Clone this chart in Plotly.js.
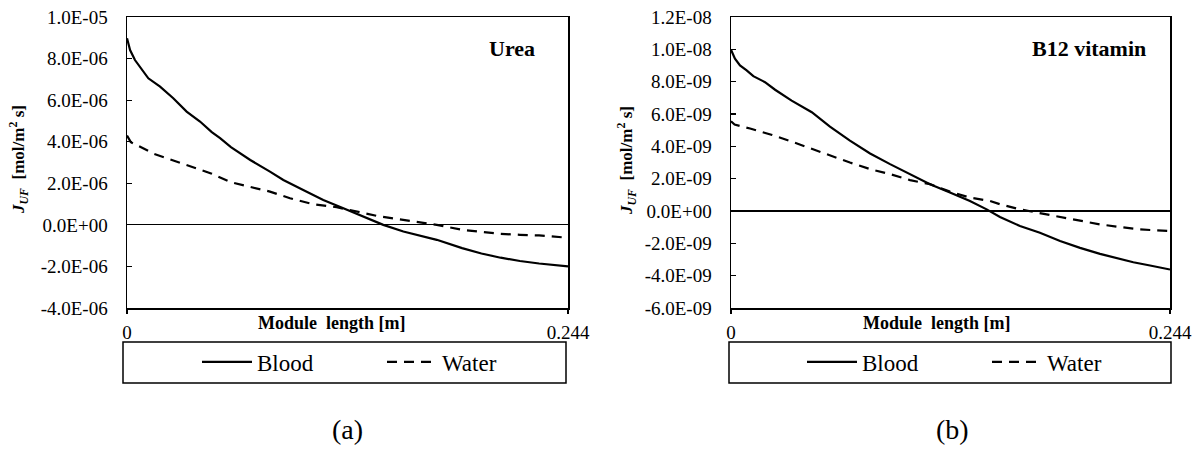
<!DOCTYPE html>
<html>
<head>
<meta charset="utf-8">
<script src="https://cdn.plot.ly/plotly-3.0.1.min.js"></script>
<style>html,body{margin:0;padding:0;background:#fff;}#chart{width:1200px;height:451px;}</style>
</head>
<body>
<div id="chart"></div>
<script>
// ---- Data (a) Urea ----
const xBloodA = [0, 0.0017, 0.0044, 0.0072, 0.0118, 0.0183, 0.0256, 0.0330, 0.0404, 0.0469, 0.0515, 0.0575, 0.0682, 0.0791, 0.0865, 0.0975, 0.1086, 0.1197, 0.1307, 0.1418, 0.1529, 0.1639, 0.1714, 0.1854, 0.1961, 0.2067, 0.2174, 0.2280, 0.244];
const yBloodA = [8.98e-6, 8.41e-6, 7.93e-6, 7.61e-6, 7.05e-6, 6.65e-6, 6.09e-6, 5.45e-6, 4.97e-6, 4.46e-6, 4.17e-6, 3.74e-6, 3.12e-6, 2.56e-6, 2.16e-6, 1.68e-6, 1.2e-6, 0.8e-6, 0.4e-6, 0, -0.32e-6, -0.56e-6, -0.72e-6, -1.12e-6, -1.38e-6, -1.58e-6, -1.74e-6, -1.86e-6, -2.0e-6];
const xWaterA = [0, 0.0021, 0.0149, 0.0256, 0.0362, 0.0469, 0.0575, 0.0682, 0.0791, 0.0902, 0.1031, 0.1160, 0.1271, 0.1382, 0.1492, 0.1603, 0.1714, 0.1854, 0.1961, 0.2067, 0.2174, 0.2280, 0.244];
const yWaterA = [4.3e-6, 3.98e-6, 3.42e-6, 3.1e-6, 2.78e-6, 2.46e-6, 2.05e-6, 1.81e-6, 1.6e-6, 1.28e-6, 0.99e-6, 0.85e-6, 0.64e-6, 0.43e-6, 0.29e-6, 0.13e-6, 0, -0.24e-6, -0.35e-6, -0.43e-6, -0.48e-6, -0.51e-6, -0.62e-6];
// ---- Data (b) B12 vitamin ----
const xBloodB = [0, 0.0022, 0.0050, 0.0087, 0.0124, 0.0189, 0.0245, 0.0337, 0.0449, 0.0550, 0.0661, 0.0773, 0.0884, 0.0995, 0.1106, 0.1217, 0.1328, 0.1421, 0.1495, 0.1606, 0.1717, 0.1829, 0.1940, 0.2051, 0.2144, 0.2236, 0.2329, 0.244];
const yBloodB = [9.98e-9, 9.42e-9, 9.0e-9, 8.7e-9, 8.34e-9, 7.97e-9, 7.5e-9, 6.83e-9, 6.11e-9, 5.22e-9, 4.35e-9, 3.56e-9, 2.9e-9, 2.28e-9, 1.66e-9, 1.14e-9, 0.62e-9, 0.1e-9, -0.37e-9, -0.93e-9, -1.35e-9, -1.86e-9, -2.28e-9, -2.65e-9, -2.9e-9, -3.17e-9, -3.37e-9, -3.62e-9];
const xWaterB = [0, 0.0020, 0.0106, 0.0224, 0.0330, 0.0437, 0.0550, 0.0661, 0.0773, 0.0884, 0.0995, 0.1106, 0.1217, 0.1328, 0.1440, 0.1495, 0.1606, 0.1717, 0.1829, 0.1940, 0.2051, 0.2162, 0.2273, 0.244];
const yWaterB = [5.55e-9, 5.35e-9, 5.1e-9, 4.72e-9, 4.32e-9, 3.88e-9, 3.42e-9, 3.0e-9, 2.59e-9, 2.28e-9, 1.91e-9, 1.66e-9, 1.2e-9, 0.83e-9, 0.62e-9, 0.42e-9, 0.1e-9, -0.14e-9, -0.35e-9, -0.62e-9, -0.83e-9, -0.99e-9, -1.14e-9, -1.24e-9];
// ---- Ticks ----
const yTickValsA = [-4e-6, -2e-6, 0, 2e-6, 4e-6, 6e-6, 8e-6, 1e-5];
const yTickTextA = ['-4.0E-06', '-2.0E-06', '0.0E+00', '2.0E-06', '4.0E-06', '6.0E-06', '8.0E-06', '1.0E-05'];
const yTickValsB = [-6e-9, -4e-9, -2e-9, 0, 2e-9, 4e-9, 6e-9, 8e-9, 1e-8, 1.2e-8];
const yTickTextB = ['-6.0E-09', '-4.0E-09', '-2.0E-09', '0.0E+00', '2.0E-09', '4.0E-09', '6.0E-09', '8.0E-09', '1.0E-08', '1.2E-08'];
const xTickVals = [0, 0.244];
const xTickText = ['0', '0.244'];
const seriesNames = ['Blood', 'Water'];

const FONT = 'Liberation Serif, Times New Roman, Times, serif';
const W = 1200, H = 451;
const px = v => v / W;
const py = v => 1 - v / H;

const solid = {color: '#000', width: 2.2};
const dashed = {color: '#000', width: 2.2, dash: '10px,7px'};

const traces = [
  {x: xBloodA, y: yBloodA, name: seriesNames[0], mode: 'lines', line: solid, xaxis: 'x', yaxis: 'y', legend: 'legend'},
  {x: xWaterA, y: yWaterA, name: seriesNames[1], mode: 'lines', line: dashed, xaxis: 'x', yaxis: 'y', legend: 'legend'},
  {x: xBloodB, y: yBloodB, name: seriesNames[0], mode: 'lines', line: solid, xaxis: 'x2', yaxis: 'y2', legend: 'legend2'},
  {x: xWaterB, y: yWaterB, name: seriesNames[1], mode: 'lines', line: dashed, xaxis: 'x2', yaxis: 'y2', legend: 'legend2'}
];

const xCommon = {
  range: [0, 0.244], tickvals: xTickVals, ticktext: xTickText,
  showline: true, mirror: true, linecolor: '#000', linewidth: 1.5,
  ticks: 'outside', ticklen: 4, tickcolor: '#000', tickwidth: 1.2,
  showgrid: false, zeroline: false, ticklabelstandoff: 3,
  tickfont: {family: FONT, size: 19, color: '#000'}
};
const yCommon = {
  showline: true, mirror: true, linecolor: '#000', linewidth: 1.5,
  ticks: 'inside', ticklen: 5, tickcolor: '#000', tickwidth: 1.2,
  showgrid: false, zeroline: true, zerolinecolor: '#000', zerolinewidth: 1.2,
  ticklabelstandoff: 14,
  tickfont: {family: FONT, size: 19, color: '#000'}
};

const yTitle = '<b><i>J</i><sub><i>UF</i></sub>  [mol/m<sup>2</sup> s]</b>';
const legendCommon = {
  orientation: 'h', bgcolor: 'rgba(0,0,0,0)', borderwidth: 0,
  font: {family: FONT, size: 23, color: '#000'},
  yanchor: 'middle', xanchor: 'left', entrywidth: 120, entrywidthmode: 'pixels',
  itemwidth: 50
};
const ann = (text, x, y, size, extra) => Object.assign({
  text: text, xref: 'paper', yref: 'paper', x: px(x), y: py(y),
  xanchor: 'center', yanchor: 'middle', showarrow: false,
  font: {family: FONT, size: size, color: '#000'}
}, extra || {});

const layout = {
  width: W, height: H,
  margin: {l: 0, r: 0, t: 0, b: 0},
  paper_bgcolor: '#fff', plot_bgcolor: '#fff',
  font: {family: FONT, color: '#000'},
  showlegend: true,
  xaxis: Object.assign({}, xCommon, {domain: [px(127), px(568)], anchor: 'y'}),
  yaxis: Object.assign({}, yCommon, {domain: [py(308), py(17)], range: [-4e-6, 1e-5], tickvals: yTickValsA, ticktext: yTickTextA, anchor: 'x'}),
  xaxis2: Object.assign({}, xCommon, {domain: [px(731), px(1170)], anchor: 'y2'}),
  yaxis2: Object.assign({}, yCommon, {domain: [py(308), py(17)], range: [-6e-9, 1.2e-8], tickvals: yTickValsB, ticktext: yTickTextB, anchor: 'x2'}),
  legend: Object.assign({}, legendCommon, {x: px(197), y: py(362)}),
  legend2: Object.assign({}, legendCommon, {x: px(802), y: py(362)}),
  shapes: [
    {type: 'rect', xref: 'paper', yref: 'paper', x0: px(123), x1: px(566), y0: py(383), y1: py(342), line: {color: '#000', width: 1.5}},
    {type: 'rect', xref: 'paper', yref: 'paper', x0: px(729), x1: px(1171), y0: py(383), y1: py(342), line: {color: '#000', width: 1.5}}
  ],
  annotations: [
    ann('<b>Urea</b>', 512, 48, 22),
    ann('<b>B12 vitamin</b>', 1089, 48, 22),
    ann('<b>Module  length [m]</b>', 332, 323, 18),
    ann('<b>Module  length [m]</b>', 937, 323, 18),
    ann(yTitle, 18, 160, 17, {textangle: -90}),
    ann(yTitle, 626, 160, 17, {textangle: -90}),
    ann('(a)', 347, 429, 28),
    ann('(b)', 952, 429, 28)
  ]
};

Plotly.newPlot('chart', traces, layout, {displayModeBar: false, staticPlot: true});
</script>
</body>
</html>
